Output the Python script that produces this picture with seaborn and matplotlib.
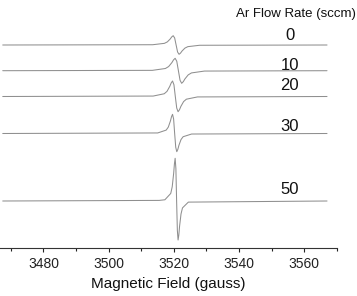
import matplotlib
matplotlib.use("Agg")
import matplotlib.pyplot as plt
from matplotlib.ticker import MultipleLocator
import numpy as np
import pandas as pd
import seaborn as sns

sns.set_style("white")
plt.rcParams['font.family'] = ['Liberation Sans', 'DejaVu Sans']

# Ar flow rates (sccm)
flow_rates = ["0", "10", "20", "30", "50"]

# field (gauss) and signal (arb. units, up = positive) for each trace
field_0 = [3467.5, 3513.5, 3517.1, 3518.0, 3518.9, 3519.35, 3519.8, 3520.25, 3520.7,
           3521.15, 3521.6, 3522.05, 3522.5, 3523.4, 3524.3, 3527.9, 3567.0]
signal_0 = [0, 0.27, 1.65, 3.10, 6.07, 8.10, 9.3, 7.04, 0,
            -7.04, -9.3, -8.10, -6.07, -3.10, -1.65, -0.27, 0]

field_10 = [3467.5, 3513.4, 3517.4, 3518.4, 3519.4, 3519.9, 3520.4, 3520.9, 3521.4,
            3521.9, 3522.4, 3522.9, 3523.4, 3524.4, 3525.4, 3529.4, 3567.0]
signal_10 = [0, 0.35, 2.19, 4.13, 8.10, 10.80, 12.4, 9.39, 0,
             -9.54, -12.6, -10.97, -8.23, -4.20, -2.23, -0.36, 0]

field_20 = [3467.5, 3513.65, 3517.05, 3517.9, 3518.75, 3519.18, 3519.6, 3520.03, 3520.45,
            3520.88, 3521.3, 3521.73, 3522.15, 3523.0, 3523.85, 3527.25, 3567.0]
signal_20 = [0, 0.44, 2.74, 5.16, 10.12, 13.50, 15.5, 11.73, 0,
             -11.51, -15.2, -13.24, -9.93, -5.06, -2.69, -0.43, 0]

field_30 = [3467.5, 3515.05, 3517.65, 3518.3, 3518.95, 3519.28, 3519.6, 3519.93, 3520.25,
            3520.58, 3520.9, 3521.23, 3521.55, 3522.2, 3522.85, 3525.45, 3567.0]
signal_30 = [0, 0.55, 3.40, 6.39, 12.54, 16.72, 19.2, 14.53, 0,
             -13.78, -18.2, -15.85, -11.88, -6.06, -3.22, -0.52, 0]

field_50 = [3467.5, 3515.5, 3517.25, 3519.05, 3519.5, 3519.95, 3520.18, 3520.4, 3520.63, 3520.85,
            3521.08, 3521.3, 3521.53, 3521.75, 3522.2, 3522.65, 3524.45, 3567.0]
signal_50 = [0, 0.6, 1.22, 7.56, 14.22, 27.88, 37.19, 42.7, 32.32, 0,
             -29.52, -39, -33.97, -25.47, -12.99, -6.90, -1.11, 0]

fields = [field_0, field_10, field_20, field_30, field_50]
signals = [signal_0, signal_10, signal_20, signal_30, signal_50]

# vertical stacking offsets (in plot units, downward)
offsets = [45.0, 70.7, 96.5, 133.5, 201.0]
label_y = [35.5, 65.0, 85.0, 126.5, 189.0]

xticks = [3480, 3500, 3520, 3540, 3560]

W, H = 357, 296
fig = plt.figure(figsize=(W / 100, H / 100), dpi=100)
ax = fig.add_axes([0.0, (H - 247.5) / H, 336.8 / W, 247.5 / H])

for rate, fx, sy, off in zip(flow_rates, fields, signals, offsets):
    df = pd.DataFrame({"field": fx, "y": off - np.asarray(sy, dtype=float)})
    sns.lineplot(data=df, x="field", y="y", sort=False, estimator=None,
                 color="#8f8f8f", linewidth=0.75, ax=ax)

for rate, ly in zip(flow_rates, label_y):
    ax.text(3555.6, ly, rate, fontsize=12, ha="center", va="center", color="#111111")

ax.text(3557.5, 14, "Ar Flow Rate (sccm)", fontsize=9.5, ha="center", va="center",
        color="#111111", clip_on=False)

ax.set_xlim(3466.66, 3570)
ax.set_ylim(247.5, 0)
ax.set_xticks(xticks)
ax.set_xticklabels([str(t) for t in xticks])
ax.xaxis.set_minor_locator(MultipleLocator(10))
ax.tick_params(axis="x", which="major", direction="out", length=3, width=0.8,
               labelsize=10, pad=4, colors="#222222", bottom=True)
ax.tick_params(axis="x", which="minor", direction="out", length=2.5, width=0.8,
               colors="#222222", bottom=True)
ax.set_yticks([])
ax.set_ylabel("")
ax.set_xlabel("Magnetic Field (gauss)", fontsize=11, color="#111111", labelpad=4)
for s in ["left", "right", "top"]:
    ax.spines[s].set_visible(False)
ax.spines["bottom"].set_color("#333333")
ax.spines["bottom"].set_linewidth(0.8)
ax.set_facecolor("white")

fig.savefig("out.png", dpi=100, facecolor="white")
